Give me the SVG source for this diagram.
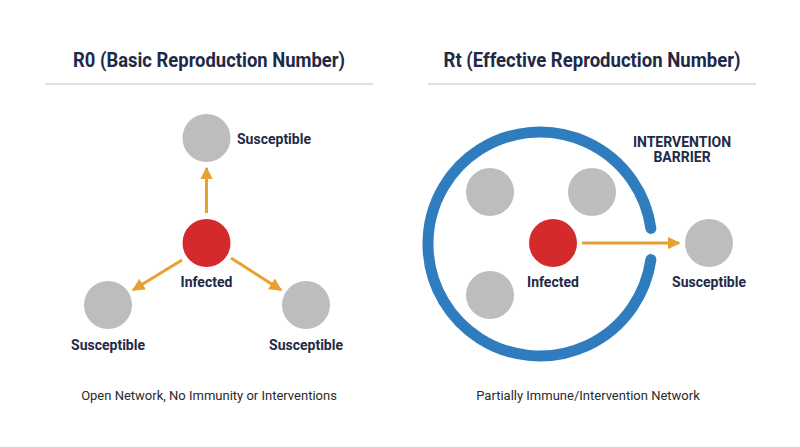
<svg xmlns="http://www.w3.org/2000/svg" width="800" height="447" viewBox="0 0 800 447">
<style>
.title{font-family:Roboto,"Liberation Sans",sans-serif;font-weight:700;font-size:20px;fill:#1e2a47;text-anchor:middle}
.lbl{font-family:Roboto,"Liberation Sans",sans-serif;font-weight:700;font-size:14px;fill:#1e2a47}
.cap{font-family:Roboto,"Liberation Sans",sans-serif;font-size:13px;fill:#2a2a2a;text-anchor:middle}
.sus{fill:#bdbdc0}
.inf{fill:#d42a2e}
.edge{stroke:#e8a030;stroke-width:3;fill:none;marker-end:url(#ah)}
.mid{text-anchor:middle}
</style>
<defs>
<marker id="ah" viewBox="0 0 10 10" refX="9" refY="5" markerWidth="4.2" markerHeight="4.2" orient="auto" markerUnits="strokeWidth">
<path d="M0,0 L10,5 L0,10 Z" fill="#e8a030"/>
</marker>
</defs>
<rect width="800" height="447" fill="#ffffff"/>

<g id="headers">
<text class="title" x="209" y="67" textLength="272" lengthAdjust="spacingAndGlyphs">R0 (Basic Reproduction Number)</text>
<line x1="45" y1="84" x2="373" y2="84" stroke="#d6d6d6" stroke-width="1.5"/>
<text class="title" x="592" y="67" textLength="297" lengthAdjust="spacingAndGlyphs">Rt (Effective Reproduction Number)</text>
<line x1="428" y1="84" x2="756" y2="84" stroke="#d6d6d6" stroke-width="1.5"/>
</g>

<g id="barrier">
<path d="M 650.9 228.4 A 112 112 0 1 0 650.9 259.6" fill="none" stroke="#2f7cbf" stroke-width="11" stroke-linecap="round"/>
<text class="lbl mid" x="682" y="147" font-size="15">INTERVENTION</text>
<text class="lbl mid" x="682" y="162" font-size="15">BARRIER</text>
</g>

<g id="connectors">
<line class="edge" x1="206.5" y1="213" x2="206.5" y2="168"/>
<line class="edge" x1="182" y1="260" x2="133" y2="290"/>
<line class="edge" x1="231" y1="258" x2="281" y2="290"/>
<line class="edge" x1="582" y1="243" x2="679" y2="243"/>
</g>

<g id="l-top"><circle class="sus" cx="206.5" cy="138" r="24"/><text class="lbl" x="237" y="144">Susceptible</text></g>
<g id="l-inf"><circle class="inf" cx="206.5" cy="243" r="24"/><text class="lbl mid" x="206.5" y="287">Infected</text></g>
<g id="l-left"><circle class="sus" cx="108" cy="305" r="24"/><text class="lbl mid" x="108" y="350">Susceptible</text></g>
<g id="l-right"><circle class="sus" cx="306" cy="305" r="24"/><text class="lbl mid" x="306" y="350">Susceptible</text></g>

<g id="r-s1"><circle class="sus" cx="490" cy="192" r="24"/></g>
<g id="r-s2"><circle class="sus" cx="592" cy="192" r="24"/></g>
<g id="r-s3"><circle class="sus" cx="490" cy="295" r="24"/></g>
<g id="r-inf"><circle class="inf" cx="553" cy="243" r="24"/><text class="lbl mid" x="553" y="287">Infected</text></g>
<g id="r-out"><circle class="sus" cx="709" cy="243" r="24"/><text class="lbl mid" x="709" y="287">Susceptible</text></g>

<g id="captions">
<text class="cap" x="209" y="400">Open Network, No Immunity or Interventions</text>
<text class="cap" x="588" y="400">Partially Immune/Intervention Network</text>
</g>
</svg>
